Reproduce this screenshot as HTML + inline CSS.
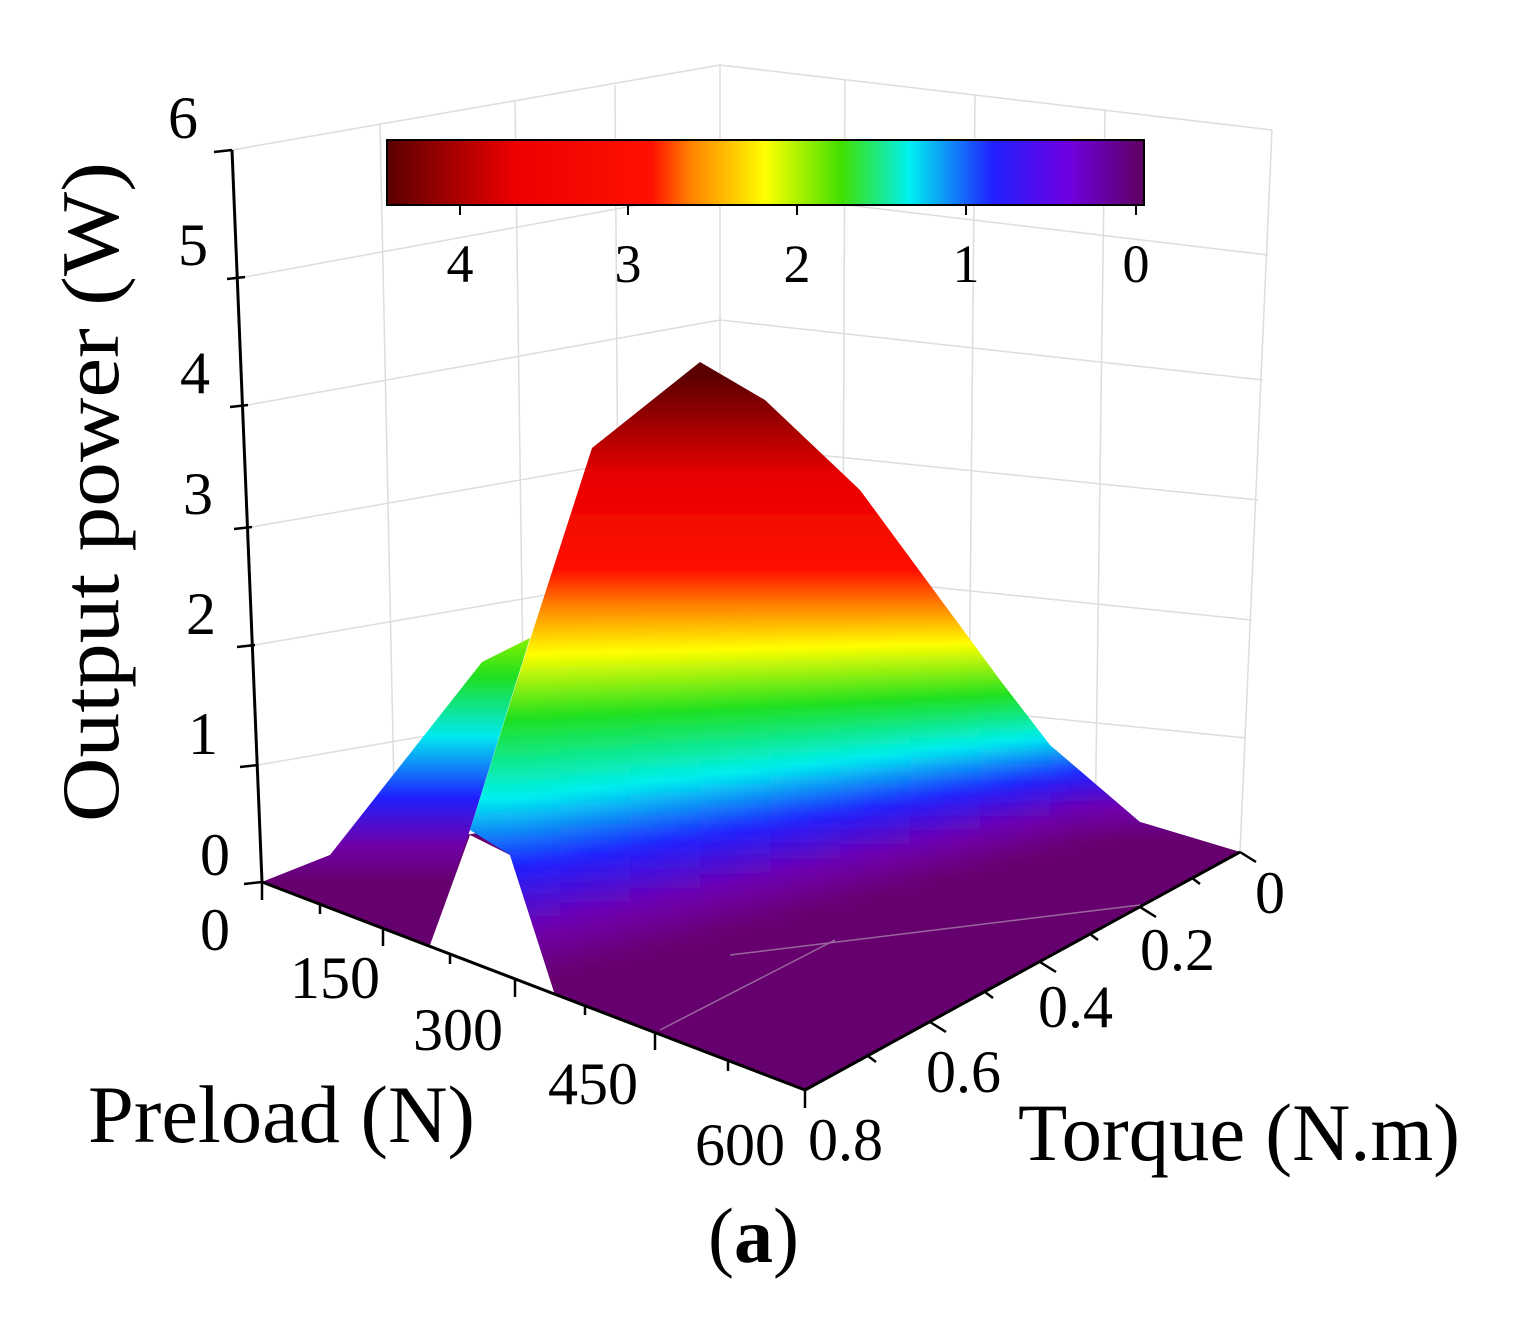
<!DOCTYPE html>
<html><head><meta charset="utf-8"><style>
body{margin:0;background:#fff}
svg{display:block}
text{font-family:"Liberation Serif",serif;fill:#000}
</style></head><body>
<svg width="1525" height="1322" viewBox="0 0 1525 1322">
<defs>
<linearGradient id="z" gradientUnits="userSpaceOnUse" x1="0" y1="882" x2="0" y2="640">
<stop offset="0" stop-color="#66006e"/>
<stop offset="0.15" stop-color="#7000a8"/>
<stop offset="0.35" stop-color="#2020ff"/>
<stop offset="0.6" stop-color="#00e8f0"/>
<stop offset="0.85" stop-color="#20e020"/>
<stop offset="1" stop-color="#80f000"/>
</linearGradient>
<linearGradient id="g0" gradientUnits="userSpaceOnUse" x1="0" y1="1000" x2="0" y2="360"><stop offset=".016" stop-color="#66006e"/><stop offset=".102" stop-color="#7000b0"/><stop offset=".203" stop-color="#2020ff"/><stop offset=".313" stop-color="#00f0f0"/><stop offset=".438" stop-color="#20e020"/><stop offset=".539" stop-color="#ffff00"/><stop offset=".617" stop-color="#ff8000"/><stop offset=".672" stop-color="#ff1000"/><stop offset=".820" stop-color="#e80000"/><stop offset=".977" stop-color="#5a0000"/></linearGradient>
<linearGradient id="g1" gradientUnits="userSpaceOnUse" x1="0" y1="1000" x2="0" y2="360"><stop offset=".025" stop-color="#66006e"/><stop offset=".110" stop-color="#7000b0"/><stop offset=".210" stop-color="#2020ff"/><stop offset=".317" stop-color="#00f0f0"/><stop offset=".440" stop-color="#20e020"/><stop offset=".540" stop-color="#ffff00"/><stop offset=".617" stop-color="#ff8000"/><stop offset=".672" stop-color="#ff1000"/><stop offset=".820" stop-color="#e80000"/><stop offset=".977" stop-color="#5a0000"/></linearGradient>
<linearGradient id="g2" gradientUnits="userSpaceOnUse" x1="0" y1="1000" x2="0" y2="360"><stop offset=".053" stop-color="#66006e"/><stop offset=".134" stop-color="#7000b0"/><stop offset=".228" stop-color="#2020ff"/><stop offset=".330" stop-color="#00f0f0"/><stop offset=".445" stop-color="#20e020"/><stop offset=".543" stop-color="#ffff00"/><stop offset=".617" stop-color="#ff8000"/><stop offset=".672" stop-color="#ff1000"/><stop offset=".820" stop-color="#e80000"/><stop offset=".977" stop-color="#5a0000"/></linearGradient>
<linearGradient id="g3" gradientUnits="userSpaceOnUse" x1="0" y1="1000" x2="0" y2="360"><stop offset=".080" stop-color="#66006e"/><stop offset=".157" stop-color="#7000b0"/><stop offset=".246" stop-color="#2020ff"/><stop offset=".343" stop-color="#00f0f0"/><stop offset=".450" stop-color="#20e020"/><stop offset=".545" stop-color="#ffff00"/><stop offset=".617" stop-color="#ff8000"/><stop offset=".672" stop-color="#ff1000"/><stop offset=".820" stop-color="#e80000"/><stop offset=".977" stop-color="#5a0000"/></linearGradient>
<linearGradient id="g4" gradientUnits="userSpaceOnUse" x1="0" y1="1000" x2="0" y2="360"><stop offset=".108" stop-color="#66006e"/><stop offset=".181" stop-color="#7000b0"/><stop offset=".264" stop-color="#2020ff"/><stop offset=".355" stop-color="#00f0f0"/><stop offset=".456" stop-color="#20e020"/><stop offset=".548" stop-color="#ffff00"/><stop offset=".617" stop-color="#ff8000"/><stop offset=".672" stop-color="#ff1000"/><stop offset=".820" stop-color="#e80000"/><stop offset=".977" stop-color="#5a0000"/></linearGradient>
<linearGradient id="g5" gradientUnits="userSpaceOnUse" x1="0" y1="1000" x2="0" y2="360"><stop offset=".135" stop-color="#66006e"/><stop offset=".205" stop-color="#7000b0"/><stop offset=".283" stop-color="#2020ff"/><stop offset=".368" stop-color="#00f0f0"/><stop offset=".461" stop-color="#20e020"/><stop offset=".551" stop-color="#ffff00"/><stop offset=".617" stop-color="#ff8000"/><stop offset=".672" stop-color="#ff1000"/><stop offset=".820" stop-color="#e80000"/><stop offset=".977" stop-color="#5a0000"/></linearGradient>
<linearGradient id="g6" gradientUnits="userSpaceOnUse" x1="0" y1="1000" x2="0" y2="360"><stop offset=".162" stop-color="#66006e"/><stop offset=".229" stop-color="#7000b0"/><stop offset=".301" stop-color="#2020ff"/><stop offset=".381" stop-color="#00f0f0"/><stop offset=".467" stop-color="#20e020"/><stop offset=".554" stop-color="#ffff00"/><stop offset=".617" stop-color="#ff8000"/><stop offset=".672" stop-color="#ff1000"/><stop offset=".820" stop-color="#e80000"/><stop offset=".977" stop-color="#5a0000"/></linearGradient>
<linearGradient id="g7" gradientUnits="userSpaceOnUse" x1="0" y1="1000" x2="0" y2="360"><stop offset=".190" stop-color="#66006e"/><stop offset=".252" stop-color="#7000b0"/><stop offset=".319" stop-color="#2020ff"/><stop offset=".394" stop-color="#00f0f0"/><stop offset=".472" stop-color="#20e020"/><stop offset=".556" stop-color="#ffff00"/><stop offset=".617" stop-color="#ff8000"/><stop offset=".672" stop-color="#ff1000"/><stop offset=".820" stop-color="#e80000"/><stop offset=".977" stop-color="#5a0000"/></linearGradient>
<linearGradient id="g8" gradientUnits="userSpaceOnUse" x1="0" y1="1000" x2="0" y2="360"><stop offset=".217" stop-color="#66006e"/><stop offset=".276" stop-color="#7000b0"/><stop offset=".337" stop-color="#2020ff"/><stop offset=".406" stop-color="#00f0f0"/><stop offset=".478" stop-color="#20e020"/><stop offset=".559" stop-color="#ffff00"/><stop offset=".617" stop-color="#ff8000"/><stop offset=".672" stop-color="#ff1000"/><stop offset=".820" stop-color="#e80000"/><stop offset=".977" stop-color="#5a0000"/></linearGradient>
<linearGradient id="g9" gradientUnits="userSpaceOnUse" x1="0" y1="1000" x2="0" y2="360"><stop offset=".244" stop-color="#66006e"/><stop offset=".300" stop-color="#7000b0"/><stop offset=".355" stop-color="#2020ff"/><stop offset=".419" stop-color="#00f0f0"/><stop offset=".483" stop-color="#20e020"/><stop offset=".562" stop-color="#ffff00"/><stop offset=".617" stop-color="#ff8000"/><stop offset=".672" stop-color="#ff1000"/><stop offset=".820" stop-color="#e80000"/><stop offset=".977" stop-color="#5a0000"/></linearGradient>
<linearGradient id="g10" gradientUnits="userSpaceOnUse" x1="0" y1="1000" x2="0" y2="360"><stop offset=".250" stop-color="#66006e"/><stop offset=".305" stop-color="#7000b0"/><stop offset=".359" stop-color="#2020ff"/><stop offset=".422" stop-color="#00f0f0"/><stop offset=".484" stop-color="#20e020"/><stop offset=".562" stop-color="#ffff00"/><stop offset=".617" stop-color="#ff8000"/><stop offset=".672" stop-color="#ff1000"/><stop offset=".820" stop-color="#e80000"/><stop offset=".977" stop-color="#5a0000"/></linearGradient>
<linearGradient id="cb" x1="0" y1="0" x2="1" y2="0">
<stop offset="0" stop-color="#5a0000"/>
<stop offset="0.17" stop-color="#ee0000"/>
<stop offset="0.35" stop-color="#ff1000"/>
<stop offset="0.40" stop-color="#ff8000"/>
<stop offset="0.50" stop-color="#ffff00"/>
<stop offset="0.60" stop-color="#40e000"/>
<stop offset="0.69" stop-color="#00f0f0"/>
<stop offset="0.80" stop-color="#2020ff"/>
<stop offset="0.90" stop-color="#7000e0"/>
<stop offset="1" stop-color="#600060"/>
</linearGradient>
<filter id="hb" x="-20%" y="-5%" width="140%" height="110%"><feGaussianBlur stdDeviation="28 0"/></filter>
<clipPath id="cf"><polygon points="700,362 765,400 860,490 1000,680 1050,745 1140,822 1240,852 805,1090 555,995 510,855 470,830 530,640 592,448"/></clipPath>
</defs>
<g stroke="#ddd" stroke-width="1.5" fill="none">
<polyline points="232,150 720,65 1272,130"/>
<line x1="720" y1="65" x2="720" y2="800"/>
<line x1="1272" y1="130" x2="1240" y2="852"/>
<line x1="380" y1="125" x2="395" y2="835"/>
<line x1="515" y1="100" x2="525" y2="820"/>
<line x1="615" y1="85" x2="620" y2="810"/>
<line x1="845" y1="80" x2="842" y2="815"/>
<line x1="975" y1="95" x2="968" y2="828"/>
<line x1="1105" y1="110" x2="1095" y2="840"/>
<polyline points="245,277 720,190 1268,255"/>
<polyline points="248,405 720,320 1263,380"/>
<polyline points="252,527 720,445 1258,500"/>
<polyline points="255,645 720,565 1252,620"/>
<polyline points="258,765 720,685 1246,738"/>
</g>
<rect x="387" y="140" width="757" height="65" fill="url(#cb)" stroke="#000" stroke-width="2"/>
<g stroke="#000" stroke-width="2">
<line x1="460" y1="205" x2="460" y2="215"/><line x1="628" y1="205" x2="628" y2="215"/><line x1="797" y1="205" x2="797" y2="215"/><line x1="966" y1="205" x2="966" y2="215"/><line x1="1136" y1="205" x2="1136" y2="215"/>
</g>
<g font-size="54" text-anchor="middle">
<text x="460" y="282">4</text><text x="628" y="282">3</text><text x="797" y="282">2</text><text x="966" y="282">1</text><text x="1136" y="282">0</text>
</g>
<polygon points="262,882 330,855 700,800 1140,822 1240,852 805,1090" fill="#66006e"/>
<polygon points="262,882 330,855 482,662 530,638 470,830 430,945 395,915" fill="url(#z)"/>
<polygon points="470,835 430,945 555,995 510,855" fill="#fff"/>
<g clip-path="url(#cf)">
<g filter="url(#hb)">
<rect x="340" y="340" width="151" height="780" fill="url(#g0)"/>
<rect x="490" y="340" width="71" height="780" fill="url(#g1)"/>
<rect x="560" y="340" width="71" height="780" fill="url(#g2)"/>
<rect x="630" y="340" width="71" height="780" fill="url(#g3)"/>
<rect x="700" y="340" width="71" height="780" fill="url(#g4)"/>
<rect x="770" y="340" width="71" height="780" fill="url(#g5)"/>
<rect x="840" y="340" width="71" height="780" fill="url(#g6)"/>
<rect x="910" y="340" width="71" height="780" fill="url(#g7)"/>
<rect x="980" y="340" width="71" height="780" fill="url(#g8)"/>
<rect x="1050" y="340" width="71" height="780" fill="url(#g9)"/>
<rect x="1120" y="340" width="220" height="780" fill="url(#g10)"/>
</g>
</g>
<g stroke="#000" stroke-width="3" fill="none">
<line x1="232" y1="150" x2="262" y2="882"/>
<line x1="262" y1="882" x2="805" y2="1090"/>
<line x1="805" y1="1090" x2="1240" y2="852"/>
</g>
<g stroke="#ccc" stroke-width="1.5" opacity="0.5">
<line x1="730" y1="955" x2="1140" y2="905"/>
<line x1="660" y1="1030" x2="835" y2="940"/>
</g>
<g stroke="#000" stroke-width="2.5">
<line x1="232" y1="150" x2="214" y2="152"/><line x1="245" y1="277" x2="227" y2="279"/><line x1="248" y1="405" x2="230" y2="407"/><line x1="252" y1="527" x2="234" y2="529"/><line x1="255" y1="645" x2="237" y2="647"/><line x1="258" y1="765" x2="240" y2="767"/><line x1="262" y1="882" x2="244" y2="884"/>
<line x1="262" y1="882" x2="262" y2="900"/><line x1="383" y1="928" x2="383" y2="946"/><line x1="515" y1="979" x2="515" y2="997"/><line x1="655" y1="1032" x2="655" y2="1050"/><line x1="805" y1="1090" x2="805" y2="1108"/>
<line x1="320" y1="904" x2="320" y2="914"/><line x1="450" y1="954" x2="450" y2="964"/><line x1="585" y1="1005" x2="585" y2="1015"/><line x1="728" y1="1061" x2="728" y2="1071"/>
<line x1="1240" y1="852" x2="1256" y2="862"/><line x1="1140" y1="907" x2="1156" y2="917"/><line x1="1040" y1="962" x2="1056" y2="972"/><line x1="930" y1="1022" x2="946" y2="1032"/>
<line x1="1192" y1="878" x2="1200" y2="884"/><line x1="1090" y1="934" x2="1098" y2="940"/><line x1="985" y1="992" x2="993" y2="998"/><line x1="868" y1="1056" x2="876" y2="1062"/>
</g>
<g font-size="60">
<text x="168" y="138">6</text><text x="178" y="265">5</text><text x="180" y="393">4</text><text x="183" y="514">3</text><text x="186" y="634">2</text><text x="188" y="754">1</text><text x="200" y="875">0</text>
<text x="200" y="950">0</text><text x="290" y="998">150</text><text x="413" y="1050">300</text><text x="548" y="1104">450</text><text x="695" y="1165">600</text>
<text x="1255" y="913">0</text><text x="1140" y="970">0.2</text><text x="1038" y="1027">0.4</text><text x="926" y="1092">0.6</text><text x="808" y="1160">0.8</text>
</g>
<text font-size="82" textLength="660" lengthAdjust="spacingAndGlyphs" transform="translate(118,822) rotate(-90)">Output power (W)</text>
<text font-size="82" x="88" y="1142" textLength="387" lengthAdjust="spacingAndGlyphs">Preload (N)</text>
<text font-size="82" x="1018" y="1160" textLength="442" lengthAdjust="spacingAndGlyphs">Torque (N.m)</text>
<text font-size="78" x="708" y="1262">(<tspan font-weight="bold">a</tspan>)</text>
</svg>
</body></html>
